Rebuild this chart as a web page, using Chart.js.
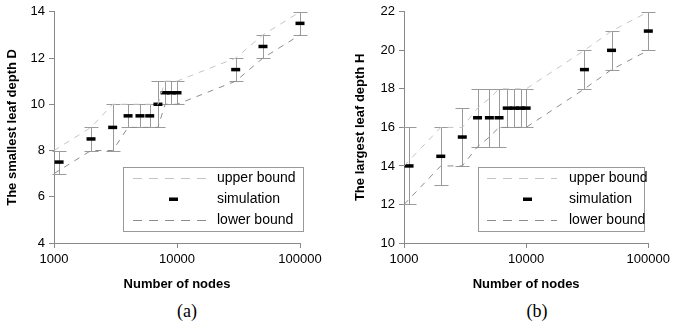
<!DOCTYPE html>
<html>
<head>
<meta charset="utf-8">
<script src="https://cdn.jsdelivr.net/npm/chart.js@4/dist/chart.umd.min.js"></script>
<style>
    body { margin: 0; background: #fff; width: 674px; height: 328px; position: relative; overflow: hidden; }
    .panel { position: absolute; top: 0; width: 337px; height: 300px; }
    .caption { position: absolute; top: 301px; font: 18px "Liberation Serif", "Times New Roman", serif; transform: translateX(-50%); }
</style>
</head>
<body>
<div class="panel" style="left:0"><canvas id="chartA" width="337" height="300"></canvas></div>
<div class="panel" style="left:337px"><canvas id="chartB" width="337" height="300"></canvas></div>
<div class="caption" style="left:187px">(a)</div>
<div class="caption" style="left:537px">(b)</div>
<script>
// Node counts
const boundNodes = [1000, 2000, 3000, 4000, 5000, 6000, 7000, 8000, 9000, 10000, 30000, 50000, 100000];
const simNodes = [1100, 2000, 3000, 4000, 5000, 6000, 7000, 8000, 9000, 10000, 30000, 50000, 100000];
const xTicks = [1000, 10000, 100000];

// (a) smallest leaf depth D
const upperD = [8, 9, 10, 10, 10, 10, 10, 11, 11, 11, 12, 13, 14];
const lowerD = [7, 8, 8, 9, 9, 9, 9, 10, 10, 10, 11, 12, 13];
const simD = [7.5, 8.5, 9, 9.5, 9.5, 9.5, 10, 10.5, 10.5, 10.5, 11.5, 12.5, 13.5];
const simDMin = [7, 8, 8, 9, 9, 9, 9, 10, 10, 10, 11, 12, 13];
const simDMax = [8, 9, 10, 10, 10, 10, 11, 11, 11, 11, 12, 13, 14];

// (b) largest leaf depth H
const upperH = [14, 16, 16, 17, 17.5, 18, 18, 18, 18, 18, 20, 21, 22];
const lowerH = [12, 14, 14, 15, 15.5, 16, 16, 16, 16, 16, 18, 19, 20];
const simH = [14, 14.5, 15.5, 16.5, 16.5, 16.5, 17, 17, 17, 17, 19, 20, 21];
const simHMin = [12, 13, 14, 15, 15, 15, 16, 16, 16, 16, 18, 19, 20];
const simHMax = [16, 16, 17, 18, 18, 18, 18, 18, 18, 18, 20, 21, 22];

Chart.defaults.font.family = '"Liberation Sans", Arial, sans-serif';
Chart.defaults.color = '#000';

const pts = (xs, ys) => xs.map((x, i) => ({ x: x, y: ys[i] }));

// min/max bars behind the simulation marks
const errorBars = {
    id: 'errorBars',
    beforeDatasetsDraw(chart, args, opts) {
        const { ctx, scales: { x, y } } = chart;
        ctx.save();
        ctx.strokeStyle = opts.color;
        ctx.lineWidth = 1;
        opts.nodes.forEach((n, i) => {
            const px = Math.round(x.getPixelForValue(n)) + 0.5;
            const top = Math.round(y.getPixelForValue(opts.max[i])) + 0.5;
            const bot = Math.round(y.getPixelForValue(opts.min[i])) + 0.5;
            ctx.beginPath();
            ctx.moveTo(px, top); ctx.lineTo(px, bot);
            ctx.moveTo(px - 7, top); ctx.lineTo(px + 7, top);
            ctx.moveTo(px - 7, bot); ctx.lineTo(px + 7, bot);
            ctx.stroke();
        });
        ctx.restore();
    }
};

// boxed legend inside the plot
const boxLegend = {
    id: 'boxLegend',
    afterDraw(chart, args, o) {
        const ctx = chart.ctx;
        ctx.save();
        ctx.fillStyle = '#fff';
        ctx.fillRect(o.x, o.y, o.w, o.h);
        ctx.strokeStyle = '#999';
        ctx.lineWidth = 1;
        ctx.strokeRect(o.x + 0.5, o.y + 0.5, o.w, o.h);
        ctx.font = '14px "Liberation Sans", Arial, sans-serif';
        ctx.textBaseline = 'middle';
        chart.data.datasets.forEach((ds, i) => {
            const cy = o.y + 11 + i * 21;
            if (ds.showLine) {
                ctx.strokeStyle = ds.borderColor;
                ctx.setLineDash([9, 7]);
                ctx.beginPath();
                ctx.moveTo(o.x1, cy + 0.5); ctx.lineTo(o.x2, cy + 0.5);
                ctx.stroke();
                ctx.setLineDash([]);
            } else {
                ctx.fillStyle = '#000';
                ctx.fillRect(o.mark - 4, cy - 1.5, 9, 3.5);
            }
            ctx.fillStyle = '#000';
            ctx.fillText(ds.label, o.tx, cy);
        });
        ctx.restore();
    }
};

function makeChart(id, cfg) {
    return new Chart(document.getElementById(id).getContext('2d'), {
        type: 'scatter',
        data: {
            datasets: [{
                label: 'upper bound',
                data: pts(boundNodes, cfg.upper),
                showLine: true,
                borderColor: '#c4c4c4',
                borderDash: [6, 6],
                borderWidth: 1,
                pointRadius: 0,
                clip: false
            }, {
                label: 'simulation',
                data: pts(simNodes, cfg.sim),
                showLine: false,
                pointStyle: 'line',
                pointRadius: 4.5,
                borderWidth: 3.5,
                borderColor: '#000',
                clip: false
            }, {
                label: 'lower bound',
                data: pts(boundNodes, cfg.lower),
                showLine: true,
                borderColor: '#8c8c8c',
                borderDash: [6, 6],
                borderWidth: 1,
                pointRadius: 0,
                clip: false
            }]
        },
        options: {
            responsive: false,
            animation: false,
            events: [],
            layout: { padding: { top: 11, right: cfg.padRight, left: 0, bottom: 0 } },
            plugins: {
                legend: { display: false },
                tooltip: { enabled: false },
                errorBars: { nodes: simNodes, min: cfg.min, max: cfg.max, color: '#9a9a9a' },
                boxLegend: cfg.legend
            },
            scales: {
                x: {
                    type: 'logarithmic',
                    min: 1000,
                    max: 100000,
                    afterBuildTicks: s => { s.ticks = xTicks.map(v => ({ value: v })); },
                    afterFit: s => { s.height = 57; },
                    ticks: { font: { size: 13 }, padding: 4, maxRotation: 0, autoSkip: false, callback: v => String(v) },
                    grid: { drawOnChartArea: false, color: '#888', tickLength: 5 },
                    border: { color: '#888' },
                    title: { display: true, text: 'Number of nodes', font: { size: 13, weight: 'bold' }, padding: { top: 4, bottom: 8 } }
                },
                y: {
                    min: cfg.yMin,
                    max: cfg.yMax,
                    afterFit: s => { s.width = cfg.yWidth; },
                    ticks: { stepSize: 2, font: { size: 13 }, padding: 4 },
                    grid: { drawOnChartArea: false, color: '#888', tickLength: 5 },
                    border: { color: '#888' },
                    title: { display: true, text: cfg.yTitle, font: { size: 13, weight: 'bold' }, padding: { top: cfg.titlePad, bottom: 0 } }
                }
            }
        },
        plugins: [errorBars, boxLegend]
    });
}

makeChart('chartA', {
    upper: upperD, lower: lowerD, sim: simD, min: simDMin, max: simDMax,
    yMin: 4, yMax: 14, yWidth: 54, padRight: 37, titlePad: 5,
    yTitle: 'The smallest leaf depth D',
    legend: { x: 123, y: 167, w: 180, h: 64, x1: 133, x2: 207, mark: 173, tx: 217 }
});

makeChart('chartB', {
    upper: upperH, lower: lowerH, sim: simH, min: simHMin, max: simHMax,
    yMin: 10, yMax: 22, yWidth: 67, padRight: 22, titlePad: 16,
    yTitle: 'The largest leaf depth H',
    legend: { x: 141, y: 167, w: 166, h: 64, x1: 150, x2: 220, mark: 190, tx: 232 }
});
</script>
</body>
</html>
